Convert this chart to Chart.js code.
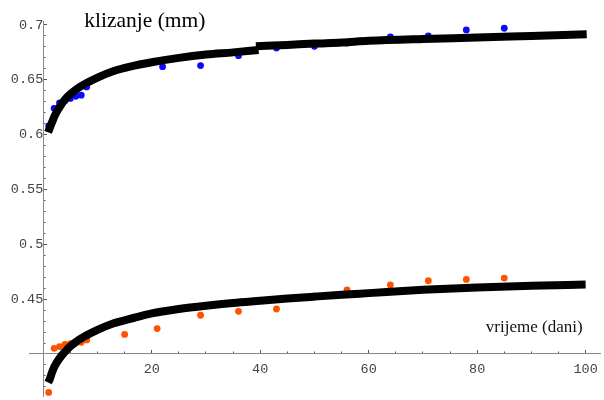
<!DOCTYPE html>
<html><head><meta charset="utf-8">
<script src="https://cdn.jsdelivr.net/npm/chart.js@4.4.1/dist/chart.umd.min.js"></script>
<style>html,body{margin:0;padding:0;background:#fff;overflow:hidden}#c{display:block}</style>
</head><body>
<canvas id="c" width="604" height="400"></canvas>
<script>
// measured data (blue = upper series, orange = lower series)
const blueX = [1, 2, 3, 4, 5, 6, 7, 8, 22, 29, 36, 43, 50, 56, 64, 71, 78, 85];
const blueY = [0.608, 0.624, 0.629, 0.631, 0.633, 0.635, 0.636, 0.6435, 0.662, 0.663, 0.672, 0.679, 0.6805, 0.6835, 0.689, 0.690, 0.6955, 0.697];
const orangeX = [1, 2, 3, 4, 5, 6, 7, 8, 15, 21, 29, 36, 43, 50, 56, 64, 71, 78, 85];
const orangeY = [0.365, 0.4052, 0.4068, 0.4088, 0.4095, 0.410, 0.4106, 0.4128, 0.4178, 0.4232, 0.4353, 0.4389, 0.441, 0.453, 0.4584, 0.4629, 0.4668, 0.468, 0.4692];
// fitted curves
const upperFitX1 = [0.9, 1.2, 1.6, 2, 2.5, 3, 4, 5, 6, 8, 10, 13, 16, 20, 25, 30, 35, 39.7];
const upperFitY1 = [0.602, 0.606, 0.611, 0.616, 0.621, 0.625, 0.632, 0.637, 0.641, 0.647, 0.652, 0.658, 0.662, 0.666, 0.670, 0.673, 0.675, 0.6772];
const upperFitX2 = [39.2, 45, 50, 55, 60, 70, 80, 90, 100.2];
const upperFitY2 = [0.6805, 0.6818, 0.683, 0.684, 0.6855, 0.6872, 0.6885, 0.690, 0.6915];
const lowerFitX = [0.9, 1.2, 1.6, 2, 3, 4, 5, 6, 8, 10, 13, 16, 20, 25, 30, 35, 40, 45, 50, 55, 60, 70, 80, 90, 100];
const lowerFitY = [0.374, 0.377, 0.383, 0.388, 0.396, 0.402, 0.407, 0.411, 0.417, 0.422, 0.428, 0.432, 0.437, 0.441, 0.444, 0.4465, 0.4485, 0.4505, 0.4523, 0.454, 0.4555, 0.4585, 0.4607, 0.4622, 0.4633];
// ticks
const xMajorTicks = [20, 40, 60, 80, 100];
const xMinorTicks = [5, 10, 15, 25, 30, 35, 45, 50, 55, 65, 70, 75, 85, 90, 95];
const yMajorTicks = [0.45, 0.5, 0.55, 0.6, 0.65, 0.7];
const yMinorTicks = [0.37, 0.38, 0.39, 0.41, 0.42, 0.43, 0.44, 0.46, 0.47, 0.48, 0.49, 0.51, 0.52, 0.53, 0.54, 0.56, 0.57, 0.58, 0.59, 0.61, 0.62, 0.63, 0.64, 0.66, 0.67, 0.68, 0.69];
const yAxisLabel = 'klizanje (mm)';
const xAxisLabel = 'vrijeme (dani)';

function pts(xs, ys) { return xs.map((x, i) => ({ x: x, y: ys[i] })); }
const zeroPad = s => { s.paddingLeft = 0; s.paddingRight = 0; s.paddingTop = 0; s.paddingBottom = 0; };
const setTicks = arr => s => { s.ticks = arr.map(v => ({ value: v })); };

const X_MIN = -2.5, X_MAX = 102.65, Y_MIN = 0.3617, Y_MAX = 0.7036;
const tickFont = { family: '"Liberation Mono", monospace', size: 13.5 };

const axisLabels = {
  id: 'axisLabels',
  afterDraw(chart) {
    const { ctx } = chart;
    const x = chart.scales.x, y = chart.scales.y;
    ctx.save();
    ctx.fillStyle = '#000';
    ctx.textBaseline = 'alphabetic';
    ctx.font = '21.5px "Liberation Serif", serif';
    ctx.textAlign = 'left';
    ctx.fillText(yAxisLabel, x.getPixelForValue(0) + 41, y.getPixelForValue(0.7) + 1.7);
    ctx.font = '17px "Liberation Serif", serif';
    ctx.textAlign = 'right';
    ctx.fillStyle = '#111';
    ctx.fillText(xAxisLabel, x.getPixelForValue(100) - 3, y.getPixelForValue(0.4) - 21.5);
    ctx.restore();
  }
};

const lineStyle = { showLine: true, borderColor: '#000', borderWidth: 8, pointRadius: 0, cubicInterpolationMode: 'monotone', borderCapStyle: 'butt', borderJoinStyle: 'round', fill: false, clip: false };

new Chart(document.getElementById('c'), {
  type: 'scatter',
  data: {
    datasets: [
      Object.assign({ data: pts(upperFitX1, upperFitY1) }, lineStyle),
      Object.assign({ data: pts(upperFitX2, upperFitY2) }, lineStyle),
      Object.assign({ data: pts(lowerFitX, lowerFitY) }, lineStyle),
      { data: pts(blueX, blueY), backgroundColor: '#0a0aff', borderWidth: 0, pointRadius: 3.4, clip: false },
      { data: pts(orangeX, orangeY), backgroundColor: '#ff5200', borderWidth: 0, pointRadius: 3.4, clip: false }
    ]
  },
  options: {
    responsive: false, animation: false, devicePixelRatio: 1,
    layout: { padding: { left: 29.7, right: 2.3, top: 21, bottom: 0 } },
    plugins: { legend: { display: false }, tooltip: { enabled: false } },
    scales: {
      x: {
        type: 'linear', min: X_MIN, max: X_MAX, position: { y: 0.4 },
        afterBuildTicks: setTicks(xMajorTicks), afterFit: zeroPad,
        grid: { drawOnChartArea: false, drawTicks: true, tickLength: -4, tickColor: '#555', tickWidth: 1 },
        border: { display: true, color: '#888', width: 1 },
        ticks: { padding: 11.7, color: '#444', font: tickFont, maxRotation: 0, autoSkip: false, callback: v => String(v) }
      },
      xm: {
        type: 'linear', axis: 'x', min: X_MIN, max: X_MAX, position: { y: 0.4 },
        afterBuildTicks: setTicks(xMinorTicks), afterFit: zeroPad,
        grid: { drawOnChartArea: false, drawTicks: true, tickLength: -2.5, tickColor: '#555', tickWidth: 1 },
        border: { display: false },
        ticks: { display: false }
      },
      y: {
        type: 'linear', min: Y_MIN, max: Y_MAX, position: { x: 0 },
        afterBuildTicks: setTicks(yMajorTicks), afterFit: zeroPad,
        grid: { drawOnChartArea: false, drawTicks: true, tickLength: -4, tickColor: '#555', tickWidth: 1 },
        border: { display: true, color: '#888', width: 1 },
        ticks: { padding: 0, color: '#444', font: tickFont, autoSkip: false, callback: v => String(v) }
      },
      ym: {
        type: 'linear', axis: 'y', min: Y_MIN, max: Y_MAX, position: { x: 0 },
        afterBuildTicks: setTicks(yMinorTicks), afterFit: zeroPad,
        grid: { drawOnChartArea: false, drawTicks: true, tickLength: -2.5, tickColor: '#555', tickWidth: 1 },
        border: { display: false },
        ticks: { display: false }
      }
    }
  },
  plugins: [axisLabels]
});
</script>
</body></html>
